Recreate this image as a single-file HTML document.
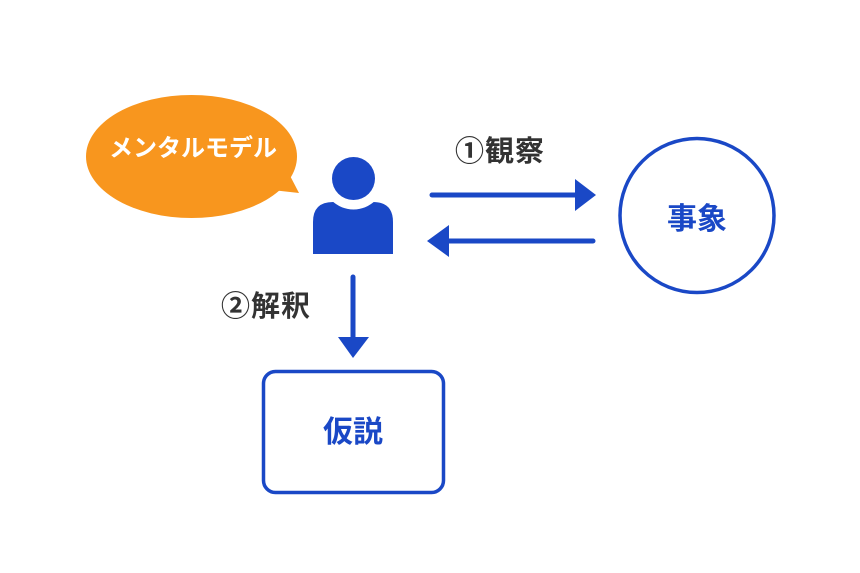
<!DOCTYPE html>
<html><head><meta charset="utf-8"><style>
html,body{margin:0;padding:0;background:#fff;}
svg{display:block;}
text{font-family:"Liberation Sans","Noto Sans CJK JP",sans-serif;font-weight:bold;}
</style></head><body>
<svg width="860" height="573" viewBox="0 0 860 573" xmlns="http://www.w3.org/2000/svg">
<rect width="860" height="573" fill="#fff"/>
<!-- speech bubble -->
<ellipse cx="191.5" cy="156.5" rx="105.5" ry="61.5" fill="#f8961e"/>
<path d="M272 190 L299 193 L286 168 Z" fill="#f8961e"/>
<text x="193" y="156" font-size="24" fill="#fff" text-anchor="middle">メンタルモデル</text>
<!-- person -->
<path d="M313 254 L313 222 Q313 202 333 202 L373 202 Q393 202 393 222 L393 254 Z" fill="#1a48c6"/>
<circle cx="353.5" cy="178.5" r="31" fill="#fff"/>
<circle cx="353.5" cy="178.5" r="21.5" fill="#1a48c6"/>
<!-- right arrow -->
<line x1="432" y1="195" x2="578" y2="195" stroke="#1a48c6" stroke-width="5" stroke-linecap="round"/>
<path d="M575 179 L596 195 L575 211 Z" fill="#1a48c6"/>
<!-- left arrow -->
<line x1="448" y1="241" x2="593" y2="241" stroke="#1a48c6" stroke-width="5" stroke-linecap="round"/>
<path d="M449 225 L427 241 L449 257 Z" fill="#1a48c6"/>
<text x="455" y="161" font-size="29" fill="#333" letter-spacing="1">①観察</text>
<!-- circle -->
<circle cx="697" cy="215.5" r="77" fill="none" stroke="#1a48c6" stroke-width="3.5"/>
<text x="697" y="229" font-size="30" fill="#1a48c6" text-anchor="middle">事象</text>
<!-- down arrow -->
<line x1="353" y1="277" x2="353" y2="340" stroke="#1a48c6" stroke-width="5" stroke-linecap="round"/>
<path d="M338 337 L353 358 L369 337 Z" fill="#1a48c6"/>
<text x="221" y="316" font-size="29" fill="#333" letter-spacing="1">②解釈</text>
<!-- box -->
<rect x="263.5" y="371.5" width="180" height="121" rx="12" fill="none" stroke="#1a48c6" stroke-width="3.5"/>
<text x="353" y="442" font-size="30" fill="#1a48c6" text-anchor="middle">仮説</text>
</svg>
</body></html>
